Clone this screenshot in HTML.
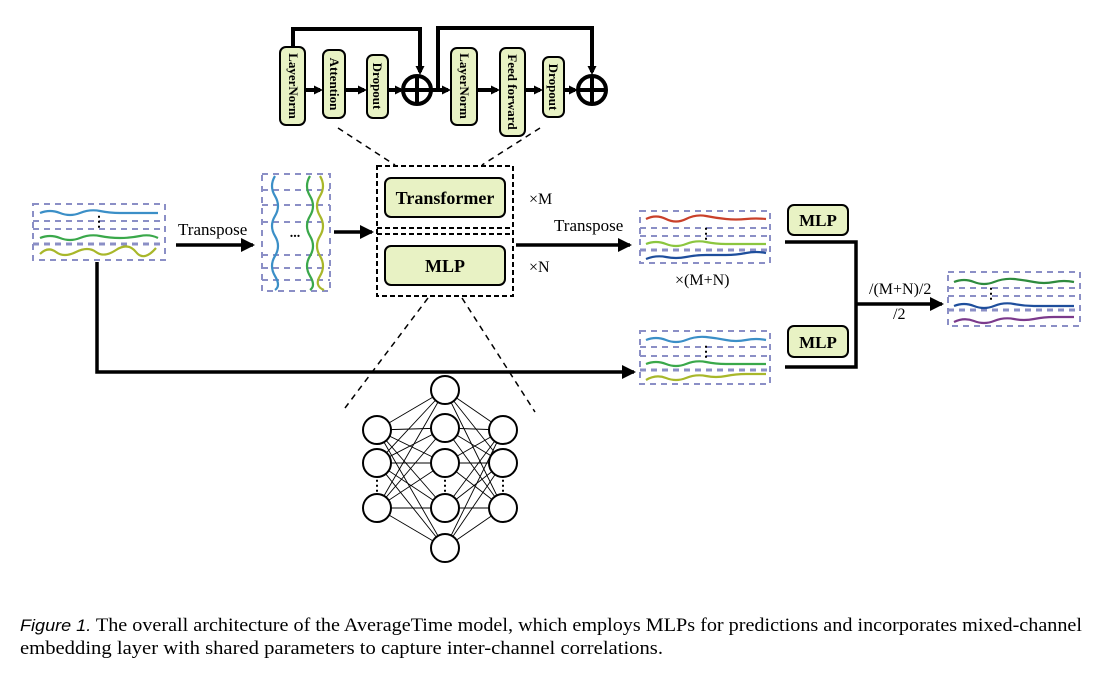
<!DOCTYPE html>
<html><head><style>
body{margin:0;background:#fff;width:1100px;height:672px;overflow:hidden;font-family:"Liberation Serif",serif}
</style></head><body>
<svg width="1100" height="672" viewBox="0 0 1100 672" xmlns="http://www.w3.org/2000/svg" font-family="Liberation Serif, serif">
<defs>
<marker id="ah" markerWidth="9" markerHeight="9" refX="6" refY="4.5" orient="auto" markerUnits="userSpaceOnUse"><path d="M0,0 L9,4.5 L0,9 z" fill="#000"/></marker>
<marker id="ab" markerWidth="14" markerHeight="14" refX="12" refY="7" orient="auto" markerUnits="userSpaceOnUse"><path d="M0,0 L14,7 L0,14 z" fill="#000"/></marker>
</defs>
<g fill="#e8f2c4" stroke="#000" stroke-width="2">
<rect x="280" y="47" width="25" height="78" rx="6"/>
<rect x="323" y="50" width="22" height="68" rx="6"/>
<rect x="367" y="55" width="21" height="63" rx="6"/>
<rect x="451" y="48" width="26" height="77" rx="6"/>
<rect x="500" y="48" width="25" height="88" rx="6"/>
<rect x="543" y="57" width="21" height="60" rx="6"/>
</g>
<g font-size="13" font-weight="bold" text-anchor="middle">
<text transform="translate(293,86) rotate(90)" dy="4">LayerNorm</text>
<text transform="translate(334,84) rotate(90)" dy="4">Attention</text>
<text transform="translate(377,86) rotate(90)" dy="4">Dropout</text>
<text transform="translate(464,86) rotate(90)" dy="4">LayerNorm</text>
<text transform="translate(512,92) rotate(90)" dy="4">Feed forward</text>
<text transform="translate(553,87) rotate(90)" dy="4">Dropout</text>
</g>
<g stroke="#000" stroke-width="4" fill="none">
<line x1="305" y1="90" x2="320" y2="90" marker-end="url(#ah)"/>
<line x1="345" y1="90" x2="364" y2="90" marker-end="url(#ah)"/>
<line x1="388" y1="90" x2="401" y2="90" marker-end="url(#ah)"/>
<line x1="432" y1="90" x2="448" y2="90" marker-end="url(#ah)"/>
<line x1="477" y1="90" x2="497" y2="90" marker-end="url(#ah)"/>
<line x1="525" y1="90" x2="540" y2="90" marker-end="url(#ah)"/>
<line x1="564" y1="90" x2="575" y2="90" marker-end="url(#ah)"/>
<polyline points="293,47 293,29 420,29 420,72" marker-end="url(#ah)"/>
<polyline points="438,90 438,28 592,28 592,72" marker-end="url(#ah)"/>
<circle cx="417" cy="90" r="14"/><line x1="403" y1="90" x2="431" y2="90"/><line x1="417" y1="76" x2="417" y2="104"/>
<circle cx="592" cy="90" r="14"/><line x1="578" y1="90" x2="606" y2="90"/><line x1="592" y1="76" x2="592" y2="104"/>
</g>
<g stroke="#000" stroke-width="1.5" stroke-dasharray="6,5" fill="none">
<line x1="338" y1="128" x2="395" y2="165"/>
<line x1="540" y1="128" x2="482" y2="165"/>
<line x1="428" y1="298" x2="345" y2="408"/>
<line x1="462" y1="298" x2="535" y2="412"/>
</g>
<rect x="377" y="166" width="136" height="130" fill="none" stroke="#000" stroke-width="2" stroke-dasharray="5,3"/>
<line x1="377" y1="228" x2="513" y2="228" stroke="#000" stroke-width="2" stroke-dasharray="5,3"/>
<line x1="377" y1="234" x2="513" y2="234" stroke="#000" stroke-width="2" stroke-dasharray="5,3"/>
<rect x="385" y="178" width="120" height="39" rx="6" fill="#e8f2c4" stroke="#000" stroke-width="2"/>
<rect x="385" y="246" width="120" height="39" rx="6" fill="#e8f2c4" stroke="#000" stroke-width="2"/>
<text x="445" y="204" font-size="18" font-weight="bold" text-anchor="middle">Transformer</text>
<text x="445" y="272" font-size="18" font-weight="bold" text-anchor="middle">MLP</text>
<text x="529" y="204" font-size="16">×M</text>
<text x="529" y="272" font-size="16">×N</text>
<rect x="788" y="205" width="60" height="30" rx="6" fill="#e8f2c4" stroke="#000" stroke-width="2"/>
<rect x="788" y="326" width="60" height="31" rx="6" fill="#e8f2c4" stroke="#000" stroke-width="2"/>
<text x="818" y="226" font-size="17" font-weight="bold" text-anchor="middle">MLP</text>
<text x="818" y="348" font-size="17" font-weight="bold" text-anchor="middle">MLP</text>
<text x="178" y="235" font-size="17">Transpose</text>
<text x="554" y="231" font-size="17">Transpose</text>
<text x="675" y="285" font-size="16">×(M+N)</text>
<text x="869" y="294" font-size="16">/(M+N)/2</text>
<text x="893" y="319" font-size="16">/2</text>
<g stroke="#000" stroke-width="3.5" fill="none">
<line x1="176" y1="245" x2="253" y2="245" marker-end="url(#ab)"/>
<line x1="334" y1="232" x2="372" y2="232" marker-end="url(#ab)"/>
<line x1="516" y1="245" x2="630" y2="245" marker-end="url(#ab)"/>
<polyline points="97,262 97,372 634,372" marker-end="url(#ab)"/>
<polyline points="785,242 856,242 856,367 785,367"/>
<line x1="856" y1="304" x2="942" y2="304" marker-end="url(#ab)"/>
</g>
<g fill="none" stroke="#8b8fc6" stroke-width="2" stroke-dasharray="6,5">
<rect x="33" y="204" width="132" height="56"/><line x1="33" y1="221" x2="165" y2="221"/><line x1="33" y1="229" x2="165" y2="229"/><line x1="33" y1="244" x2="165" y2="244" stroke-width="3"/>
<rect x="262" y="174" width="68" height="117"/>
<line x1="262" y1="190" x2="330" y2="190"/><line x1="262" y1="205" x2="330" y2="205"/><line x1="262" y1="222" x2="330" y2="222"/><line x1="262" y1="255" x2="330" y2="255"/><line x1="262" y1="268" x2="330" y2="268"/><line x1="262" y1="280" x2="330" y2="280"/>
<rect x="640" y="211" width="130" height="52"/><line x1="640" y1="228" x2="770" y2="228"/><line x1="640" y1="236" x2="770" y2="236"/><line x1="640" y1="250" x2="770" y2="250" stroke-width="3"/>
<rect x="640" y="331" width="130" height="53"/><line x1="640" y1="347" x2="770" y2="347"/><line x1="640" y1="356" x2="770" y2="356"/><line x1="640" y1="370" x2="770" y2="370" stroke-width="3"/>
<rect x="948" y="272" width="132" height="54"/><line x1="948" y1="288" x2="1080" y2="288"/><line x1="948" y1="296" x2="1080" y2="296"/><line x1="948" y1="310" x2="1080" y2="310" stroke-width="3"/>
</g>
<g fill="none" stroke-width="2.2">
<path d="M40,213 q10,-4 20,0 t20,0 t20,-2 t20,2 t20,0 t18,0" stroke="#3b8fc7"/>
<path d="M40,238 q10,-4 20,0 t20,0 t20,-2 t20,2 t20,-2 t18,2" stroke="#3aa84a"/>
<path d="M40,254 q8,-8 16,-2 t20,0 t20,0 t20,-2 t20,2 t20,-4" stroke="#a8b72a"/>
<path d="M275,176 q-6,10 0,20 t0,20 t0,20 t0,20 t0,20 t0,14" stroke="#3b8fc7"/>
<path d="M310,176 q-6,10 0,20 t0,20 t0,20 t0,20 t0,20 t0,14" stroke="#3aa84a"/>
<path d="M320,176 q6,10 0,20 t0,20 t0,20 t0,20 t0,20 t4,14" stroke="#a8b72a"/>
<path d="M646,219 q10,-5 20,0 t20,0 t20,-3 t20,3 t20,0 t20,0" stroke="#c9402a"/>
<path d="M646,244 q10,-4 20,0 t20,0 t20,-2 t20,2 t20,0 t20,0" stroke="#8cc63f"/>
<path d="M646,259 q10,-4 20,-2 t20,0 t20,-2 t20,0 t20,-2 t20,0" stroke="#1e4e9c"/>
<path d="M646,340 q10,-4 20,0 t20,0 t20,-3 t20,3 t20,0 t20,0" stroke="#3b8fc7"/>
<path d="M646,364 q10,-4 20,0 t20,0 t20,-2 t20,2 t20,0 t20,0" stroke="#3aa84a"/>
<path d="M646,380 q10,-6 20,-2 t20,0 t20,-2 t20,0 t20,-2 t20,0" stroke="#a8b72a"/>
<path d="M954,282 q10,-4 20,0 t20,0 t20,-3 t20,3 t20,0 t20,0" stroke="#2e8b3e"/>
<path d="M954,306 q10,-4 20,0 t20,0 t20,-2 t20,2 t20,0 t20,0" stroke="#1e4e9c"/>
<path d="M954,322 q10,-5 20,-1 t20,0 t20,-2 t20,0 t20,-2 t20,0" stroke="#7b3a8c"/>
</g>
<g font-size="14" font-weight="bold" text-anchor="middle">
<text x="99" y="226">⋮</text><text x="706" y="238">⋮</text><text x="706" y="356">⋮</text><text x="991" y="298">⋮</text>
<text x="295" y="237">...</text>
</g>
<g stroke="#000" stroke-width="0.9">
<line x1="377" y1="430" x2="445" y2="390"/><line x1="377" y1="430" x2="445" y2="428"/><line x1="377" y1="430" x2="445" y2="463"/><line x1="377" y1="430" x2="445" y2="508"/><line x1="377" y1="430" x2="445" y2="548"/>
<line x1="377" y1="463" x2="445" y2="390"/><line x1="377" y1="463" x2="445" y2="428"/><line x1="377" y1="463" x2="445" y2="463"/><line x1="377" y1="463" x2="445" y2="508"/><line x1="377" y1="463" x2="445" y2="548"/>
<line x1="377" y1="508" x2="445" y2="390"/><line x1="377" y1="508" x2="445" y2="428"/><line x1="377" y1="508" x2="445" y2="463"/><line x1="377" y1="508" x2="445" y2="508"/><line x1="377" y1="508" x2="445" y2="548"/>
<line x1="445" y1="390" x2="503" y2="430"/><line x1="445" y1="390" x2="503" y2="463"/><line x1="445" y1="390" x2="503" y2="508"/>
<line x1="445" y1="428" x2="503" y2="430"/><line x1="445" y1="428" x2="503" y2="463"/><line x1="445" y1="428" x2="503" y2="508"/>
<line x1="445" y1="463" x2="503" y2="430"/><line x1="445" y1="463" x2="503" y2="463"/><line x1="445" y1="463" x2="503" y2="508"/>
<line x1="445" y1="508" x2="503" y2="430"/><line x1="445" y1="508" x2="503" y2="463"/><line x1="445" y1="508" x2="503" y2="508"/>
<line x1="445" y1="548" x2="503" y2="430"/><line x1="445" y1="548" x2="503" y2="463"/><line x1="445" y1="548" x2="503" y2="508"/>
</g>
<g fill="#fff" stroke="#000" stroke-width="2">
<circle cx="377" cy="430" r="14"/><circle cx="377" cy="463" r="14"/><circle cx="377" cy="508" r="14"/>
<circle cx="445" cy="390" r="14"/><circle cx="445" cy="428" r="14"/><circle cx="445" cy="463" r="14"/><circle cx="445" cy="508" r="14"/><circle cx="445" cy="548" r="14"/>
<circle cx="503" cy="430" r="14"/><circle cx="503" cy="463" r="14"/><circle cx="503" cy="508" r="14"/>
</g>
<g font-size="14" font-weight="bold" text-anchor="middle"><text x="377" y="490">⋮</text><text x="445" y="490">⋮</text><text x="503" y="490">⋮</text></g>
<text x="20" y="631" font-size="19" textLength="1062" lengthAdjust="spacingAndGlyphs"><tspan font-style="italic" font-family="Liberation Sans, sans-serif" font-size="17">Figure 1.</tspan> The overall architecture of the AverageTime model, which employs MLPs for predictions and incorporates mixed-channel</text>
<text x="20" y="654" font-size="19" textLength="643" lengthAdjust="spacingAndGlyphs">embedding layer with shared parameters to capture inter-channel correlations.</text>
</svg>
</body></html>
